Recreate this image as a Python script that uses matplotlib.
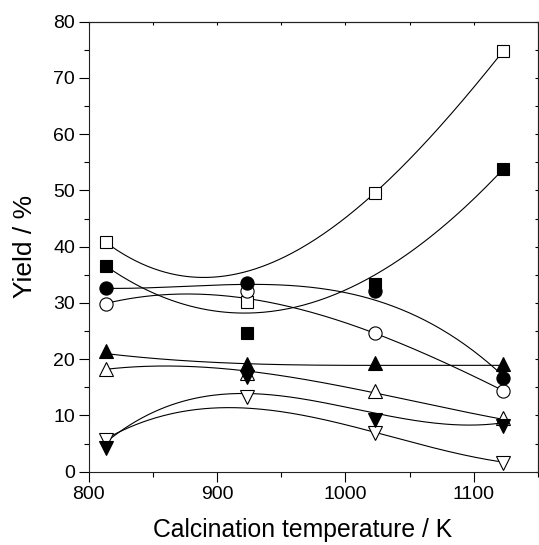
import numpy as np
import matplotlib
matplotlib.use("Agg")
import matplotlib.pyplot as plt
from matplotlib.ticker import MultipleLocator

plt.rcParams['font.family'] = ['Liberation Sans', 'DejaVu Sans']

# calcination temperatures (K)
temp = [813, 923, 1023, 1123]

# measured yields (%)
sq_open = [40.9, 30.2, 49.6, 74.8]
sq_fill = [36.6, 24.6, 33.3, 53.8]
ci_open = [29.9, 32.1, 24.6, 14.4]
ci_fill = [32.6, 33.5, 32.1, 16.6]
tu_open = [18.2, 17.6, 14.3, 9.5]
tu_fill = [21.4, 19.1, 19.3, 19.2]
td_open = [5.7, 13.3, 6.8, 1.5]
td_fill = [4.3, 16.8, 9.2, 8.1]

# smoothed trend values at the same temperatures
sq_open_fit = [40.8, 35.6, 49.6, 74.8]
sq_fill_fit = [36.6, 28.2, 35.0, 53.8]
ci_open_fit = [29.9, 30.8, 24.6, 14.4]
ci_fill_fit = [32.6, 33.3, 30.5, 17.0]
tu_open_fit = [18.2, 17.9, 14.0, 9.3]
tu_fill_fit = [21.0, 19.2, 18.9, 18.9]
td_open_fit = [5.8, 11.3, 7.0, 1.7]
td_fill_fit = [5.2, 13.9, 10.4, 8.7]

series = [
    (sq_open, sq_open_fit, 's', 'white', 9),
    (sq_fill, sq_fill_fit, 's', 'black', 9),
    (ci_open, ci_open_fit, 'o', 'white', 9.5),
    (ci_fill, ci_fill_fit, 'o', 'black', 9.5),
    (tu_open, tu_open_fit, '^', 'white', 10),
    (tu_fill, tu_fill_fit, '^', 'black', 10),
    (td_open, td_open_fit, 'v', 'white', 10),
    (td_fill, td_fill_fit, 'v', 'black', 10),
]

fig = plt.figure(figsize=(5.39, 5.45), dpi=100)
ax = fig.add_axes([0.165, 0.1345, 0.833, 0.8257])

xs = np.linspace(temp[0], temp[-1], 200)
for vals, fit, mk, face, ms in series:
    coef = np.polyfit(temp, fit, 3)
    ax.plot(xs, np.polyval(coef, xs), color='black', lw=0.8, zorder=2)

z = 3
for vals, fit, mk, face, ms in series:
    ax.plot(temp, vals, linestyle='none', marker=mk, markersize=ms,
            markerfacecolor=face, markeredgecolor='black', markeredgewidth=0.8,
            zorder=z)
    z += 0.1

ax.set_xlim(800, 1150)
ax.set_ylim(0, 80)
ax.xaxis.set_major_locator(MultipleLocator(100))
ax.xaxis.set_minor_locator(MultipleLocator(50))
ax.yaxis.set_major_locator(MultipleLocator(10))
ax.yaxis.set_minor_locator(MultipleLocator(5))
ax.tick_params(which='major', direction='out', length=7, width=0.8,
               labelsize=14, pad=3)
ax.tick_params(which='minor', direction='out', length=3.6, width=0.8)

top = ax.secondary_xaxis('top')
top.xaxis.set_major_locator(MultipleLocator(50))
top.tick_params(direction='in', length=2.5, width=0.8, labeltop=False)
right = ax.secondary_yaxis('right')
right.yaxis.set_major_locator(MultipleLocator(5))
right.tick_params(direction='in', length=2.5, width=0.8, labelright=False)

for sp in list(ax.spines.values()) + [top.spines['top'], right.spines['right']]:
    sp.set_linewidth(0.8)
    sp.set_color('#222222')

ax.set_xlabel('Calcination temperature / K', fontsize=17.8)
ax.xaxis.set_label_coords(0.4766, -0.103)
ax.set_ylabel('Yield / %', fontsize=19, labelpad=12)

fig.savefig('out.png', dpi=100)
